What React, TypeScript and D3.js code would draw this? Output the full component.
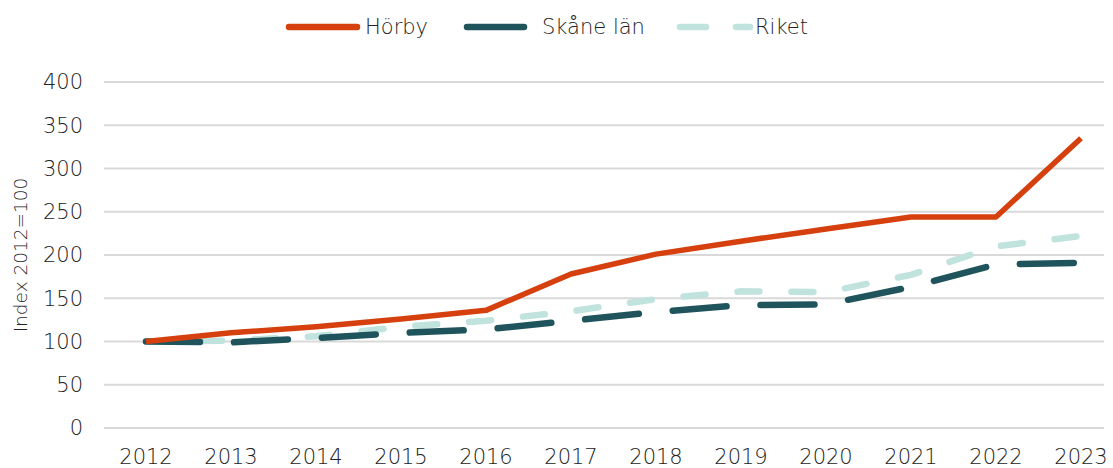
import { line, scaleLinear, scalePoint } from "d3";

const years = ["2012", "2013", "2014", "2015", "2016", "2017", "2018", "2019", "2020", "2021", "2022", "2023"];
const horby = [100, 110, 117, 126, 136, 178, 201, 216, 230, 244, 244, 335];
const skane = [100, 99, 104, 110, 114, 124, 134, 142, 143, 163, 189, 191];
const riket = [100, 101, 106, 117, 124, 135, 149, 158, 157, 177, 210, 222];
const yTicks = [0, 50, 100, 150, 200, 250, 300, 350, 400];

const series = [
  { label: "Hörby", values: horby, color: "#d5400e", dash: "none", width: 5.5 },
  { label: "Skåne län", values: skane, color: "#1f545c", dash: "54 34", width: 6.5 },
  { label: "Riket", values: riket, color: "#c0e3de", dash: "22 32", width: 6.5 },
];

export default function App() {
  const width = 1113;
  const height = 468;
  const font = "'DejaVu Sans', sans-serif";
  const weight = 200;

  const x = scalePoint<string>().domain(years).range([146, 1081]);
  const y = scaleLinear().domain([0, 400]).range([428, 82]);
  const path = line<number>()
    .x((_, i) => x(years[i]) ?? 0)
    .y((v) => y(v));

  const legend = [
    { x: 289, len: 68, tx: 365, dash: "none" },
    { x: 467, len: 57, tx: 542, dash: "none" },
    { x: 680, len: 70, tx: 755, dash: "26 30" },
  ];

  return (
    <svg width={width} height={height} style={{ position: "absolute", left: 0, top: 0 }}>
      <rect width={width} height={height} fill="#fff" />
      {yTicks.map((t) => (
        <g key={t}>
          <line x1={104} x2={1104} y1={y(t)} y2={y(t)} stroke="#d9d9d9" strokeWidth={2} />
          <text x={83} y={y(t)} dy="0.35em" textAnchor="end" fontSize={21} fontWeight={weight} fill="#222" fontFamily={font}>
            {t}
          </text>
        </g>
      ))}
      {years.map((yr) => (
        <text key={yr} x={x(yr)} y={457} dy="0.35em" textAnchor="middle" fontSize={21} fontWeight={weight} fill="#222" fontFamily={font}>
          {yr}
        </text>
      ))}
      <text
        transform="translate(21,255) rotate(-90)"
        textAnchor="middle"
        dy="0.35em"
        fontSize={18.5}
        fontWeight={weight}
        fill="#222"
        fontFamily={font}
      >
        Index 2012=100
      </text>
      {[...series].reverse().map((s) => (
        <path
          key={s.label}
          d={path(s.values) ?? ""}
          fill="none"
          stroke={s.color}
          strokeWidth={s.width}
          strokeDasharray={s.dash}
          strokeLinecap={s.dash === "none" ? "butt" : "round"}
          strokeLinejoin="round"
        />
      ))}
      {series.map((s, i) => (
        <g key={s.label}>
          <line
            x1={legend[i].x}
            x2={legend[i].x + legend[i].len}
            y1={27}
            y2={27}
            stroke={s.color}
            strokeWidth={6.5}
            strokeLinecap="round"
            strokeDasharray={legend[i].dash}
          />
          <text x={legend[i].tx} y={27} dy="0.35em" fontSize={21} fontWeight={weight} fill="#222" fontFamily={font}>
            {s.label}
          </text>
        </g>
      ))}
    </svg>
  );
}
